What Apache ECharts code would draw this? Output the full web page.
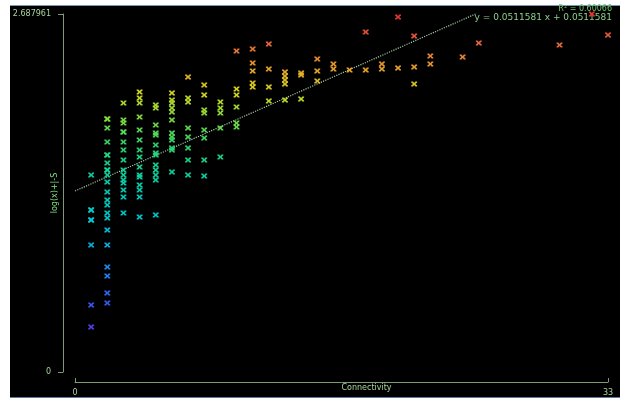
<!DOCTYPE html>
<html>
<head>
<meta charset="utf-8">
<script src="https://cdn.jsdelivr.net/npm/echarts@6/dist/echarts.min.js"></script>
<style>
  html, body { margin: 0; padding: 0; background: #fff; }
  #frame {
    position: absolute; left: 10px; top: 5px; width: 610px; height: 393px;
    background: #000; box-sizing: border-box;
    border-top: 1px solid #7d97b8; border-bottom: 1px solid #5a7aa8;
  }
  #chart { position: absolute; left: 0; top: 0; width: 620px; height: 401px; }
</style>
</head>
<body>
<div id="frame"></div>
<div id="chart"></div>
<script>
// Connectivity value of each column of points
const connectivity = [1, 2, 3, 4, 5, 6, 7, 8, 9, 10, 11, 12, 13, 14, 15, 16, 17, 18, 19, 20, 21, 22, 24, 25, 30, 32, 33];

// log(x)+|-S scores observed at each connectivity value
const scores = [
  [1.479, 1.216, 1.216, 1.141, 1.141, 0.954, 0.503, 0.338],
  [1.900, 1.900, 1.832, 1.727, 1.629, 1.629, 1.569, 1.517, 1.517, 1.479, 1.427, 1.351, 1.291, 1.254, 1.194, 1.156, 1.066, 0.954, 0.788, 0.721, 0.593, 0.518],
  [2.020, 1.892, 1.869, 1.802, 1.802, 1.727, 1.667, 1.592, 1.517, 1.479, 1.442, 1.419, 1.366, 1.314, 1.194],
  [2.102, 2.057, 2.020, 1.915, 1.817, 1.742, 1.667, 1.614, 1.539, 1.479, 1.464, 1.404, 1.366, 1.314, 1.164],
  [2.005, 1.982, 1.854, 1.794, 1.779, 1.704, 1.644, 1.629, 1.554, 1.517, 1.479, 1.442, 1.179],
  [2.095, 2.042, 2.020, 1.982, 1.952, 1.892, 1.794, 1.764, 1.742, 1.682, 1.667, 1.502],
  [2.215, 2.057, 2.027, 1.832, 1.764, 1.682, 1.592, 1.479],
  [2.155, 2.080, 1.967, 1.945, 1.817, 1.757, 1.592, 1.472],
  [2.027, 1.982, 1.945, 1.832, 1.614],
  [2.410, 2.125, 2.080, 1.990, 1.869, 1.839],
  [2.425, 2.320, 2.260, 2.170, 2.140],
  [2.463, 2.275, 2.140, 2.035],
  [2.252, 2.222, 2.192, 2.162, 2.042],
  [2.245, 2.230, 2.050],
  [2.350, 2.260, 2.185],
  [2.312, 2.275],
  [2.267],
  [2.553, 2.267],
  [2.312, 2.275],
  [2.665, 2.282],
  [2.523, 2.290, 2.162],
  [2.373, 2.312],
  [2.365],
  [2.470],
  [2.455],
  [2.688],
  [2.530]
];

// Fitted trend line end points
const trendX = [0, 24.8];
const trendY = [1.359, 2.688];

// Axis tick labels
const xTickLabels = ['0', '33'];
const yTickLabels = ['0', '2.687961'];

const fitText = ['R\u00b2 = 0.60066', 'y = 0.0511581 x + 0.0511581'];

const points = [];
connectivity.forEach((c, i) => scores[i].forEach(s => points.push([c, s])));

const markerPath = 'path://M0 0H3L5 3L7 0H10V2L7 5L10 8V10H7L5 7L3 10H0V8L3 5L0 2Z';
const axisColor = '#7f9a78';
const textColor = '#a8d4a0';
const font = 'DejaVu Sans';

const chart = echarts.init(document.getElementById('chart'), null, { renderer: 'canvas' });
chart.setOption({
  animation: false,
  backgroundColor: 'transparent',
  grid: { left: 75, right: 12, top: 14, bottom: 29, containLabel: false, outerBoundsMode: 'none' },
  xAxis: {
    type: 'value', min: 0, max: 33, interval: 33, offset: 10,
    axisLine: { show: true, onZero: false, lineStyle: { color: axisColor, width: 1 } },
    axisTick: { show: true, inside: true, length: 4, lineStyle: { color: axisColor } },
    axisLabel: {
      color: textColor, fontSize: 8, fontFamily: font, margin: 7,
      formatter: v => (v < 1 ? xTickLabels[0] : xTickLabels[1])
    },
    splitLine: { show: false },
    name: 'Connectivity', nameLocation: 'middle', nameGap: 2, nameMoveOverlap: false,
    nameTextStyle: { color: textColor, fontSize: 8, fontFamily: font, padding: [0, 0, 0, 50] }
  },
  yAxis: {
    type: 'value', min: 0, max: 2.687961, interval: 2.687961, offset: 12,
    axisLine: { show: true, onZero: false, lineStyle: { color: axisColor, width: 1 } },
    axisTick: { show: true, length: 5, lineStyle: { color: axisColor } },
    axisLabel: {
      color: textColor, fontSize: 8, fontFamily: font, margin: 12,
      formatter: v => (v < 1 ? yTickLabels[0] : yTickLabels[1])
    },
    splitLine: { show: false },
    name: 'log(x)+|-S', nameLocation: 'middle', nameGap: 4, nameMoveOverlap: false,
    nameTextStyle: { color: '#7fe07f', fontSize: 8, fontFamily: font }
  },
  visualMap: {
    show: false, type: 'continuous', seriesIndex: 0, dimension: 1,
    min: 0.3, max: 2.7,
    inRange: {
      color: ['#5a3cf0', '#3a58ff', '#2480ff', '#14a8f0', '#00c8d8', '#00d0c0', '#10d4a0',
              '#30d870', '#80e040', '#dce020', '#f0a030', '#f06040', '#f03030']
    }
  },
  graphic: [
    { type: 'text', right: 8, top: 5, style: { text: fitText[0], fill: '#6cc86c', font: '8px ' + font } },
    { type: 'text', right: 8, top: 13, style: { text: fitText[1], fill: '#8cd08c', font: '9px ' + font } }
  ],
  series: [
    {
      type: 'scatter', data: points, symbol: markerPath, symbolSize: [6, 5],
      clip: false, z: 3, itemStyle: { opacity: 0.95 }
    },
    {
      type: 'line', data: trendX.map((x, i) => [x, trendY[i]]), symbol: 'none',
      clip: false, z: 2, silent: true,
      lineStyle: { type: 'dotted', color: '#a4c8a0', width: 1.2 }
    }
  ]
});
</script>
</body>
</html>
